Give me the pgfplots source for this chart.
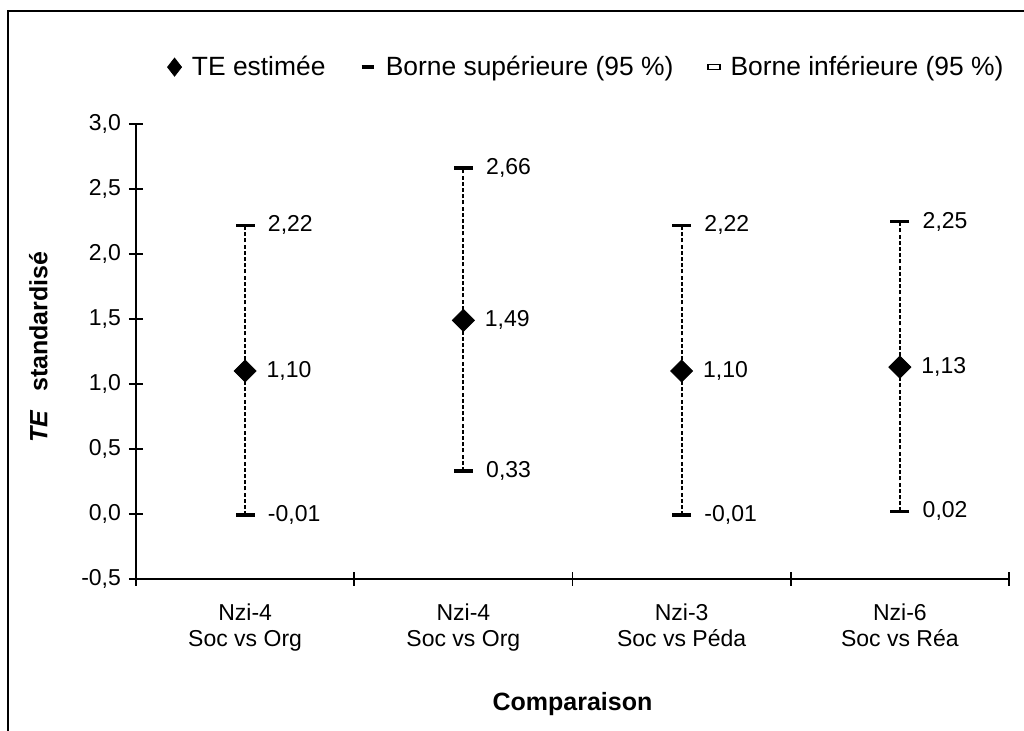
\documentclass[border=0pt]{standalone}
\usepackage{fontspec}
\setmainfont{Liberation Sans}
\usepackage{pgfplots}
\pgfplotsset{compat=1.18}

\begin{document}
\fontsize{11.5}{13}\selectfont
\begin{tikzpicture}
\begin{axis}[
    at={(68pt,-289.5pt)}, anchor=south west,
    scale only axis,
    width=436.5pt, height=227.5pt,
    xmin=0.5, xmax=4.5, ymin=-0.5, ymax=3,
    axis x line=bottom, axis y line=left,
    axis line style={-, line width=0.9pt},
    xtick={1,2,3,4},
    xticklabels={{Nzi-4\\Soc vs Org},{Nzi-4\\Soc vs Org},{Nzi-3\\Soc vs Péda},{Nzi-6\\Soc vs Réa}},
    xticklabel style={align=center, yshift=-5pt},
    minor xtick={0.5,1.5,2.5,3.5,4.5},
    major x tick style={draw=none},
    ytick={-0.5,0,0.5,1,1.5,2,2.5,3},
    tick align=center,
    tick style={line width=0.9pt, black},
    major tick length=7pt, minor tick length=7pt,
    yticklabel style={/pgf/number format/.cd, fixed, fixed zerofill, precision=1, use comma},
    /pgf/number format/assume math mode=true,
    xlabel={\textbf{Comparaison}},
    xlabel style={at={(axis description cs:0.5,-0.275)}, anchor=center, font=\fontsize{12.5}{14}\selectfont},
    ylabel={\textbf{\textit{TE}\hspace{9pt}standardisé}},
    ylabel style={at={(axis description cs:-0.112,0.51)}, anchor=center, font=\fontsize{12.5}{14}\selectfont},
    legend columns=3,
    legend style={draw=none, fill=none, at={(axis description cs:0.517,1.125)}, anchor=center,
        font=\fontsize{13.2}{15}\selectfont,
        /tikz/every odd column/.append style={column sep=3pt},
        /tikz/every even column/.append style={column sep=15pt}},
    point meta=y,
    nodes near coords={\pgfmathprintnumber[fixed,fixed zerofill,precision=2,use comma,assume math mode=true]{\pgfplotspointmeta}},
    every node near coord/.append style={anchor=west, xshift=6.7pt, black},
]
% intervalles en pointillés
\addplot[black, line width=1pt, dash pattern=on 2pt off 1.1pt, forget plot, nodes near coords={}] coordinates {(1,-0.01) (1,2.22)};
\addplot[black, line width=1pt, dash pattern=on 2pt off 1.1pt, forget plot, nodes near coords={}] coordinates {(2,0.33) (2,2.66)};
\addplot[black, line width=1pt, dash pattern=on 2pt off 1.1pt, forget plot, nodes near coords={}] coordinates {(3,-0.01) (3,2.22)};
\addplot[black, line width=1pt, dash pattern=on 2pt off 1.1pt, forget plot, nodes near coords={}] coordinates {(4,0.02) (4,2.25)};

% TE estimée
\addplot[only marks, black, mark=square*, mark size=3.9pt, mark options={rotate=45},
    legend image code/.code={\fill[black] (4pt,0) +(0,4.5pt) -- +(3.5pt,0) -- +(0,-4.5pt) -- +(-3.5pt,0) -- cycle;}]
    coordinates {(1,1.10) (2,1.49) (3,1.10) (4,1.13)};
\addlegendentry{TE estimée}

% borne supérieure
\addplot[only marks, black, mark=-, mark size=4.8pt, mark options={line width=1.8pt},
    legend image code/.code={\draw[line width=2.2pt] (1pt,0) -- (7pt,0);}]
    coordinates {(1,2.22) (2,2.66) (3,2.22) (4,2.25)};
\addlegendentry{Borne supérieure (95 \%)}

% borne inférieure
\addplot[only marks, black, mark=-, mark size=4.8pt, mark options={line width=1.8pt},
    legend image code/.code={\draw[line width=0.55pt, fill=white] (1pt,-1.4pt) rectangle (7pt,1.4pt);}]
    coordinates {(1,-0.01) (2,0.33) (3,-0.01) (4,0.02)};
\addlegendentry{Borne inférieure (95 \%)}
\end{axis}
\pgfresetboundingbox
\useasboundingbox (0,0) rectangle (512pt,-365.5pt);
\draw[line width=1.2pt] (4pt,-365.5pt) -- (4pt,-5.5pt) -- (512pt,-5.5pt);
\end{tikzpicture}
\end{document}
